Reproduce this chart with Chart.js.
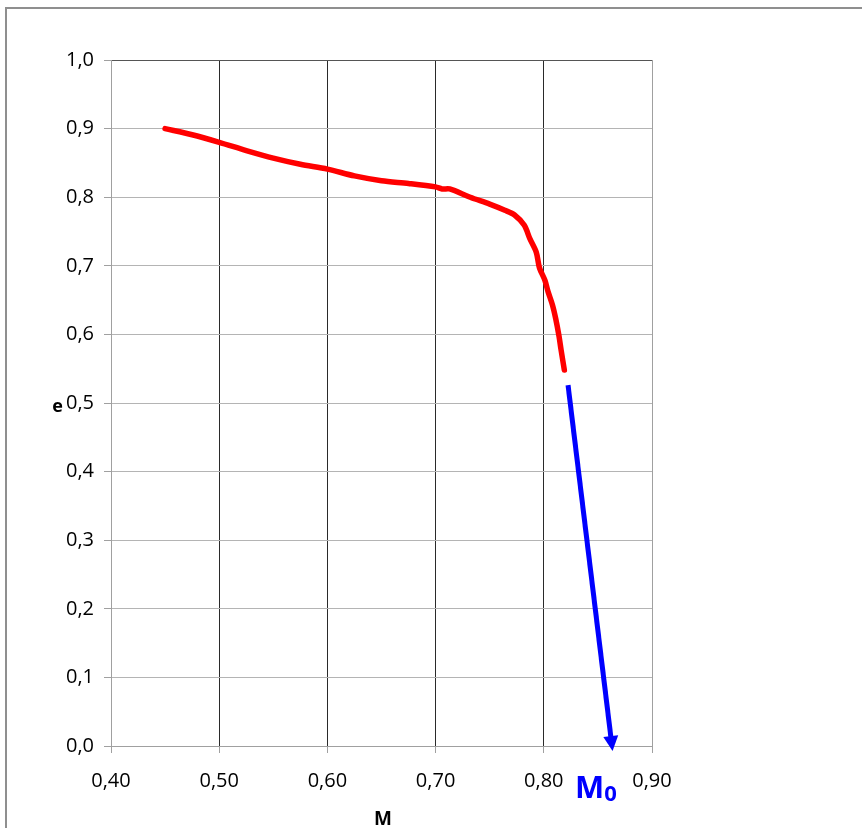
<!DOCTYPE html>
<html>
<head>
<meta charset="utf-8">
<script src="https://cdn.jsdelivr.net/npm/chart.js@4.4.1/dist/chart.umd.min.js"></script>
<style>
html,body{margin:0;padding:0;background:#fff;}
canvas{display:block;}
</style>
</head>
<body>
<canvas id="c" width="862" height="828"></canvas>
<script>
// Data
const redM = [0.450,0.475,0.500,0.525,0.550,0.575,0.600,0.625,0.650,0.675,0.700,0.706,0.713,0.732,0.750,0.764,0.773,0.782,0.787,0.793,0.796,0.801,0.804,0.808,0.811,0.814,0.816,0.819];
const redE = [0.900,0.891,0.880,0.868,0.857,0.848,0.841,0.831,0.824,0.820,0.815,0.812,0.812,0.800,0.790,0.781,0.774,0.759,0.740,0.720,0.697,0.679,0.662,0.643,0.623,0.598,0.577,0.548];
const blueM = [0.8224, 0.8620];
const blueE = [0.526, 0.013];
const xTicks = [0.40,0.50,0.60,0.70,0.80,0.90];
const yTicks = [0.0,0.1,0.2,0.3,0.4,0.5,0.6,0.7,0.8,0.9,1.0];
const xTitle = 'M';
const yTitle = 'e';
const markLabel = 'M';
const markSub = '0';

const FONT = '"Open Sans", "Liberation Sans", sans-serif';

const decor = {
  id: 'decor',
  beforeDraw(chart) {
    const ctx = chart.ctx;
    ctx.save();
    ctx.strokeStyle = '#8f8f8f';
    ctx.lineWidth = 2;
    ctx.beginPath();
    ctx.moveTo(6, 828);
    ctx.lineTo(6, 8);
    ctx.lineTo(862, 8);
    ctx.stroke();
    ctx.restore();
  },
  afterDatasetsDraw(chart) {
    const ctx = chart.ctx;
    const xs = chart.scales.x, ys = chart.scales.y;
    // arrowhead beyond the end of the blue line
    const x0 = xs.getPixelForValue(blueM[0]), y0 = ys.getPixelForValue(blueE[0]);
    const x1 = xs.getPixelForValue(blueM[1]), y1 = ys.getPixelForValue(blueE[1]);
    const ang = Math.atan2(y1 - y0, x1 - x0);
    const len = 15, half = 7.5;
    ctx.save();
    ctx.fillStyle = '#0000ff';
    ctx.translate(x1, y1);
    ctx.rotate(ang);
    ctx.beginPath();
    ctx.moveTo(len - 1, 0);
    ctx.lineTo(-1, -half);
    ctx.lineTo(-1, half);
    ctx.closePath();
    ctx.fill();
    ctx.restore();
    // texts
    ctx.save();
    ctx.fillStyle = '#000';
    ctx.font = 'bold 18px ' + FONT;
    ctx.textAlign = 'center';
    ctx.textBaseline = 'alphabetic';
    ctx.fillText(yTitle, 57.5, 412);
    ctx.font = 'bold 19px ' + FONT;
    ctx.fillText(xTitle, 383, 825);
    ctx.fillStyle = '#0000ff';
    ctx.textAlign = 'left';
    ctx.font = 'bold 31px ' + FONT;
    ctx.fillText(markLabel, 575, 798);
    const w = ctx.measureText(markLabel).width;
    ctx.font = 'bold 22px ' + FONT;
    ctx.fillText(markSub, 575 + w, 801);
    ctx.restore();
  }
};

const fmt = (v, d) => v.toFixed(d).replace('.', ',');

new Chart(document.getElementById('c'), {
  type: 'scatter',
  data: {
    datasets: [
      {
        data: redM.map((m, i) => ({x: m, y: redE[i]})),
        showLine: true,
        borderColor: '#ff0000',
        borderWidth: 5.5,
        pointRadius: 0,
        tension: 0.3,
        borderCapStyle: 'round',
        borderJoinStyle: 'round',
        fill: false
      },
      {
        data: blueM.map((m, i) => ({x: m, y: blueE[i]})),
        showLine: true,
        borderColor: '#0000ff',
        borderWidth: 5,
        pointRadius: 0,
        tension: 0,
        clip: false,
        borderCapStyle: 'butt',
        fill: false
      }
    ]
  },
  options: {
    responsive: false,
    animation: false,
    devicePixelRatio: 1,
    layout: { padding: { left: 0, top: 60, right: 210, bottom: 32 } },
    plugins: { legend: { display: false }, tooltip: { enabled: false } },
    scales: {
      x: {
        type: 'linear',
        min: 0.40, max: 0.90,
        afterBuildTicks(s) { s.ticks = xTicks.map(v => ({value: v})); },
        afterFit(s) { s.height = 50; },
        ticks: {
          callback: v => fmt(v, 2),
          color: '#000',
          font: { family: FONT, size: 20 },
          padding: 16,
          maxRotation: 0
        },
        grid: {
          color: ctx => (ctx.index === 0 || ctx.index === xTicks.length - 1) ? '#a0a0a0' : '#2a2a2a',
          tickColor: '#a0a0a0',
          tickLength: 7,
          lineWidth: 1
        },
        border: { display: true, color: '#a0a0a0', width: 1 }
      },
      y: {
        type: 'linear',
        min: 0, max: 1.0,
        afterBuildTicks(s) { s.ticks = yTicks.map(v => ({value: v})); },
        afterFit(s) { s.width = 111; },
        ticks: {
          callback: v => fmt(v, 1),
          color: '#000',
          font: { family: FONT, size: 20 },
          padding: 10
        },
        grid: {
          color: ctx => (ctx.index === yTicks.length - 1) ? '#555555' : '#b4b4b4',
          tickColor: '#a0a0a0',
          tickLength: 7,
          lineWidth: 1
        },
        border: { display: true, color: '#a0a0a0', width: 1 }
      }
    }
  },
  plugins: [decor]
});
</script>
</body>
</html>
